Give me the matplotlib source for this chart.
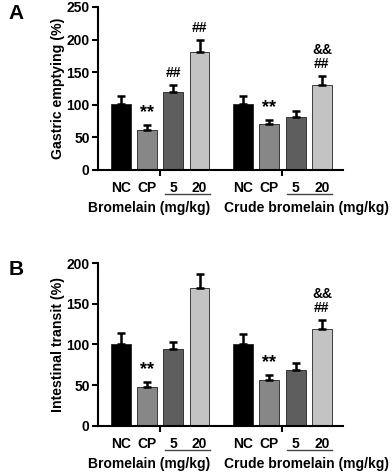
import matplotlib.pyplot as plt
import matplotlib.transforms as mtransforms

plt.rcParams['font.family'] = ['Liberation Sans', 'DejaVu Sans']
plt.rcParams['font.weight'] = 'bold'

# bar order: NC, CP, 5, 20 for bromelain, then the same for crude bromelain
tick_labels = ["NC", "CP", "5", "20", "NC", "CP", "5", "20"]
group_names = ["Bromelain (mg/kg)", "Crude bromelain (mg/kg)"]
bar_colors = ["#000000", "#878787", "#5e5e5e", "#c3c3c3"] * 2

gastric_mean = [101, 62, 120, 181, 101, 70, 81, 131]
gastric_err = [12, 7, 11, 18, 12, 6, 9, 13]
gastric_marks = [[], ["**"], ["##"], ["##"], [], ["**"], [], ["##", "&&"]]

transit_mean = [101, 48, 94, 170, 101, 56, 69, 119]
transit_err = [13, 6, 9, 17, 12, 6, 8, 11]
transit_marks = [[], ["**"], [], [], [], ["**"], [], ["##", "&&"]]

positions = [0, 1, 2, 3, 4.65, 5.65, 6.65, 7.65]


def draw_panel(ax, means, errs, marks, ymax, ystep, ylabel):
    ax.bar(positions, means, width=0.75, color=bar_colors, edgecolor="#222222",
           linewidth=0.6, zorder=2)
    ax.errorbar(positions, means, yerr=[[0] * len(errs), errs], fmt="none",
                ecolor="black", elinewidth=1.8, capsize=3, capthick=1.8, zorder=3)

    for x, m, e, mk in zip(positions, means, errs, marks):
        for k, s in enumerate(mk):
            size = 13 if s == "**" else 10
            off = 9 if s == "**" else 8.5 + k * 10
            ax.annotate(s, (x, m + e), xytext=(0, off), textcoords="offset points",
                        ha="center", va="center", fontsize=size, fontweight="bold")

    ax.set_xlim(-0.86, 8.45)
    ax.set_ylim(0, ymax)
    ax.set_yticks(range(0, ymax + 1, ystep))
    ax.set_ylabel(ylabel, fontsize=10.2, fontweight="bold", labelpad=1)

    ax.set_xticks(positions)
    ax.set_xticklabels(tick_labels, fontsize=10, fontweight="bold")
    ax.tick_params(axis="x", length=0, pad=8)
    ax.set_xticks([1.5, 6.15], minor=True)
    ax.tick_params(axis="x", which="minor", length=4, width=1.5, direction="out")
    ax.tick_params(axis="y", length=4, width=1.5, labelsize=10, direction="out", pad=2)

    for sp in ["top", "right"]:
        ax.spines[sp].set_visible(False)
    for sp in ["left", "bottom"]:
        ax.spines[sp].set_linewidth(1.5)

    trans = mtransforms.blended_transform_factory(ax.transData, ax.transAxes)
    # underline below the dose labels
    for a, b in [(positions[2], positions[3]), (positions[6], positions[7])]:
        ax.plot([a - 0.33, b + 0.38], [-0.147, -0.147], color="#444444", lw=1,
                transform=trans, clip_on=False)
    ax.text(1.08, -0.235, group_names[0], transform=trans, ha="center", va="center",
            fontsize=10, fontweight="bold")
    ax.text(7.05, -0.235, group_names[1], transform=trans, ha="center", va="center",
            fontsize=10, fontweight="bold")


fig = plt.figure(figsize=(3.92, 4.76), dpi=100)
ax1 = fig.add_axes([0.25, 0.643, 0.625, 0.3424])
ax2 = fig.add_axes([0.25, 0.1057, 0.625, 0.3412])

draw_panel(ax1, gastric_mean, gastric_err, gastric_marks, 250, 50, "Gastric emptying (%)")
draw_panel(ax2, transit_mean, transit_err, transit_marks, 200, 50, "Intestinal transit (%)")

fig.text(0.022, 0.972, "A", fontsize=15, fontweight="bold", va="center")
fig.text(0.022, 0.433, "B", fontsize=15, fontweight="bold", va="center")

fig.savefig("out.png", dpi=100)
